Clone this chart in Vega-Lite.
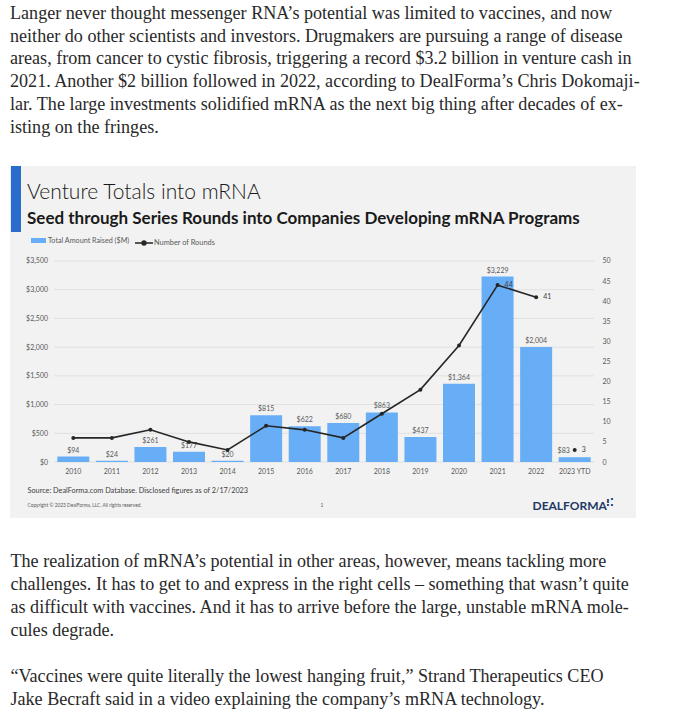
{
  "$schema": "https://vega.github.io/schema/vega-lite/v6.json",
  "background": "white",
  "padding": {"left": 10, "top": 4, "right": 4, "bottom": 4},
  "config": {"view": {"stroke": null}, "concat": {"spacing": 35}, "axis": {"labelOverlap": false, "labelBound": false}},
  "title": {
    "text": [
      "Langer never thought messenger RNA’s potential was limited to vaccines, and now",
      "neither do other scientists and investors. Drugmakers are pursuing a range of disease",
      "areas, from cancer to cystic fibrosis, triggering a record $3.2 billion in venture cash in",
      "2021. Another $2 billion followed in 2022, according to DealForma’s Chris Dokomaji-",
      "lar. The large investments solidified mRNA as the next big thing after decades of ex-",
      "isting on the fringes."
    ],
    "anchor": "start",
    "font": "Liberation Serif",
    "fontSize": 18.1,
    "fontWeight": "normal",
    "lineHeight": 22.8,
    "color": "#292929",
    "offset": 29
  },
  "datasets": {
    "mrna": [
      {"year": "2010", "amount": 94, "rounds": 6},
      {"year": "2011", "amount": 24, "rounds": 6},
      {"year": "2012", "amount": 261, "rounds": 8},
      {"year": "2013", "amount": 177, "rounds": 5},
      {"year": "2014", "amount": 20, "rounds": 3},
      {"year": "2015", "amount": 815, "rounds": 9},
      {"year": "2016", "amount": 622, "rounds": 8},
      {"year": "2017", "amount": 680, "rounds": 6},
      {"year": "2018", "amount": 863, "rounds": 12},
      {"year": "2019", "amount": 437, "rounds": 18},
      {"year": "2020", "amount": 1364, "rounds": 29},
      {"year": "2021", "amount": 3229, "rounds": 44},
      {"year": "2022", "amount": 2004, "rounds": 41},
      {"year": "2023 YTD", "amount": 83, "rounds": 3}
    ],
    "grid": [{"v": 0}, {"v": 500}, {"v": 1000}, {"v": 1500}, {"v": 2000}, {"v": 2500}, {"v": 3000}, {"v": 3500}],
    "para2": [
      {"line": 0, "text": "The realization of mRNA’s potential in other areas, however, means tackling more"},
      {"line": 1, "text": "challenges. It has to get to and express in the right cells – something that wasn’t quite"},
      {"line": 2, "text": "as difficult with vaccines. And it has to arrive before the large, unstable mRNA mole-"},
      {"line": 3, "text": "cules degrade."},
      {"line": 5, "text": "“Vaccines were quite literally the lowest hanging fruit,” Strand Therapeutics CEO"},
      {"line": 6, "text": "Jake Becraft said in a video explaining the company’s mRNA technology."}
    ]
  },
  "vconcat": [
    {
      "width": 626,
      "height": 352,
      "view": {"fill": "#f2f2f2", "stroke": null},
      "data": {"name": "mrna"},
      "title": {
        "text": "Venture Totals into mRNA",
        "subtitle": "Seed through Series Rounds into Companies Developing mRNA Programs",
        "anchor": "start",
        "frame": "group",
        "dx": 17,
        "offset": -61,
        "font": "Lato",
        "fontSize": 21,
        "fontWeight": 300,
        "color": "#1a1a1a",
        "subtitleFont": "Lato",
        "subtitleFontSize": 17,
        "subtitleFontWeight": "bold",
        "subtitleColor": "#1a1a1a",
        "subtitlePadding": 8
      },
      "layer": [
        {
          "layer": [
            {
              "data": {"name": "grid"},
              "mark": {"type": "rule", "color": "#e0e0e0", "strokeWidth": 1},
              "encoding": {
                "y": {"field": "v", "type": "quantitative", "title": "Copyright © 2023 DealForma, LLC. All rights reserved."},
                "x": {"datum": "2010", "bandPosition": -0.103},
                "x2": {"datum": "2023 YTD", "bandPosition": 1.103}
              }
            },
            {
              "mark": {"type": "bar", "opacity": 1},
              "encoding": {
                "x": {
                  "field": "year", "type": "nominal", "sort": null,
                  "title": "Source: DealForma.com Database. Disclosed figures as of 2/17/2023",
                  "scale": {
                    "domain": ["2010", "2011", "2012", "2013", "2014", "2015", "2016", "2017", "2018", "2019", "2020", "2021", "2022", "2023 YTD"],
                    "range": [44, 584], "paddingInner": 0.17, "paddingOuter": 0.085
                  },
                  "axis": {
                    "orient": "bottom", "offset": -56, "domain": false, "ticks": false, "grid": false,
                    "bandPosition": 0.5, "labelAlign": "center", "labelOverlap": false,
                    "labelAngle": 0, "labelFont": "Lato", "labelFontSize": 7, "labelColor": "#595959", "labelPadding": 9,
                    "titleFont": "Lato", "titleFontSize": 7.3, "titleFontWeight": "normal", "titleColor": "#404040",
                    "titleAnchor": "start", "titleAlign": "left", "titleBaseline": "middle", "titleX": 17, "titleY": 28
                  }
                },
                "y": {
                  "field": "amount", "type": "quantitative",
                  "title": "Copyright © 2023 DealForma, LLC. All rights reserved.",
                  "scale": {"domain": [-975, 5154], "nice": false, "zero": false},
                  "axis": {
                    "values": [0, 500, 1000, 1500, 2000, 2500, 3000, 3500], "format": "$,d",
                    "offset": -44, "domain": false, "ticks": false, "grid": false, "labelOverlap": false,
                    "labelFont": "Lato", "labelFontSize": 7, "labelColor": "#595959", "labelPadding": 6.5,
                    "titleFont": "Lato", "titleFontSize": 4.8, "titleFontWeight": "normal", "titleColor": "#595959",
                    "titleAngle": 0, "titleAlign": "left", "titleBaseline": "middle", "titleX": -27, "titleY": 339
                  }
                },
                "y2": {"datum": 0},
                "color": {
                  "datum": "Total Amount Raised ($M)",
                  "scale": {"domain": ["Total Amount Raised ($M)"], "range": ["#68aef6"]},
                  "legend": {
                    "title": null, "orient": "none", "legendX": 21, "legendY": 67,
                    "labelFont": "Lato", "labelFontSize": 7.2, "labelColor": "#595959", "labelOffset": 2,
                    "symbolType": "M-1,-0.33H1V0.33H-1Z", "symbolSize": 225, "symbolStrokeWidth": 0
                  }
                }
              }
            },
            {
              "transform": [{"filter": "datum.year !== '2023 YTD'"}],
              "mark": {"type": "text", "baseline": "bottom", "dy": -3, "font": "Lato", "fontSize": 7, "color": "#595959"},
              "encoding": {
                "x": {"field": "year", "type": "nominal", "sort": null, "title": "Source: DealForma.com Database. Disclosed figures as of 2/17/2023"},
                "y": {"field": "amount", "type": "quantitative", "title": "Copyright © 2023 DealForma, LLC. All rights reserved."},
                "text": {"field": "amount", "type": "quantitative", "format": "$,d"}
              }
            },
            {
              "transform": [{"filter": "datum.year === '2023 YTD'"}],
              "mark": {"type": "text", "baseline": "bottom", "dy": -3, "dx": -11, "font": "Lato", "fontSize": 7, "color": "#595959"},
              "encoding": {
                "x": {"field": "year", "type": "nominal", "sort": null, "title": "Source: DealForma.com Database. Disclosed figures as of 2/17/2023"},
                "y": {"field": "amount", "type": "quantitative", "title": "Copyright © 2023 DealForma, LLC. All rights reserved."},
                "text": {"field": "amount", "type": "quantitative", "format": "$,d"}
              }
            },
            {
              "data": {"values": [{}]},
              "mark": {"type": "rect", "color": "#2a6ccc"},
              "encoding": {
                "x": {"datum": "2010", "bandPosition": -1.447},
                "x2": {"datum": "2010", "bandPosition": -1.134},
                "y": {"datum": 5154},
                "y2": {"datum": 4005}
              }
            },
            {
              "data": {"values": [{}]},
              "mark": {"type": "text", "text": "1", "font": "Lato", "fontSize": 5, "color": "#595959"},
              "encoding": {
                "x": {"datum": "2016", "bandPosition": 1.04},
                "y": {"datum": -749}
              }
            },
            {
              "data": {"values": [{}]},
              "mark": {"type": "text", "text": "⁝⁚", "font": "DejaVu Sans", "fontSize": 10, "fontWeight": "bold", "align": "left", "color": "#1f3864"},
              "encoding": {
                "x": {"datum": "2023 YTD", "bandPosition": 1.48},
                "y": {"datum": -714}
              }
            }
          ]
        },
        {
          "layer": [
            {
              "transform": [{"filter": "datum.year !== '2023 YTD'"}],
              "mark": {"type": "line", "strokeWidth": 1.6},
              "encoding": {
                "x": {"field": "year", "type": "nominal", "sort": null, "title": "Source: DealForma.com Database. Disclosed figures as of 2/17/2023"},
                "y": {
                  "field": "rounds", "type": "quantitative", "title": "DEALFORMA",
                  "scale": {"domain": [-13.93, 73.63], "nice": false, "zero": false},
                  "axis": {
                    "orient": "right", "values": [0, 5, 10, 15, 20, 25, 30, 35, 40, 45, 50], "tickCount": 11,
                    "offset": -42, "domain": false, "ticks": false, "grid": false, "labelOverlap": false, "labelBound": false,
                    "labelFont": "Lato", "labelFontSize": 7, "labelColor": "#595959", "labelPadding": 8,
                    "titleFont": "Lato", "titleFontSize": 12, "titleFontWeight": "bold", "titleColor": "#1f3864",
                    "titleAngle": 0, "titleAlign": "left", "titleBaseline": "middle", "titleX": -62, "titleY": 339
                  }
                },
                "stroke": {
                  "datum": "Number of Rounds",
                  "scale": {"domain": ["Number of Rounds"], "range": ["#262626"]},
                  "legend": {
                    "title": null, "orient": "none", "legendX": 124, "legendY": 67,
                    "labelFont": "Lato", "labelFontSize": 7.4, "labelColor": "#595959", "labelOffset": 0,
                    "symbolType": "M-1,0H1M0.22,0A0.22,0.22,0,1,1,-0.22,0A0.22,0.22,0,1,1,0.22,0Z",
                    "symbolSize": 324, "symbolStrokeWidth": 1.4, "symbolFillColor": "#262626"
                  }
                }
              }
            },
            {
              "mark": {"type": "point", "filled": true, "size": 16, "color": "#262626", "opacity": 1},
              "encoding": {
                "x": {"field": "year", "type": "nominal", "sort": null, "title": "Source: DealForma.com Database. Disclosed figures as of 2/17/2023"},
                "y": {"field": "rounds", "type": "quantitative", "title": "DEALFORMA"}
              }
            },
            {
              "transform": [{"filter": "indexof(['2021', '2022', '2023 YTD'], datum.year) >= 0"}],
              "mark": {"type": "text", "align": "left", "baseline": "middle", "dx": 7, "font": "Lato", "fontSize": 7, "color": "#404040"},
              "encoding": {
                "x": {"field": "year", "type": "nominal", "sort": null, "title": "Source: DealForma.com Database. Disclosed figures as of 2/17/2023"},
                "y": {"field": "rounds", "type": "quantitative", "title": "DEALFORMA"},
                "text": {"field": "rounds", "type": "quantitative"}
              }
            }
          ]
        }
      ],
      "resolve": {"scale": {"y": "independent"}}
    },
    {
      "data": {"name": "para2"},
      "width": 1,
      "height": 138,
      "mark": {"type": "text", "align": "left", "baseline": "middle", "font": "Liberation Serif", "fontSize": 18.1, "color": "#292929"},
      "encoding": {
        "y": {"field": "line", "type": "quantitative", "scale": {"domain": [0, 6], "reverse": true, "nice": false, "zero": false}, "axis": null},
        "text": {"field": "text", "type": "nominal"}
      }
    }
  ]
}
